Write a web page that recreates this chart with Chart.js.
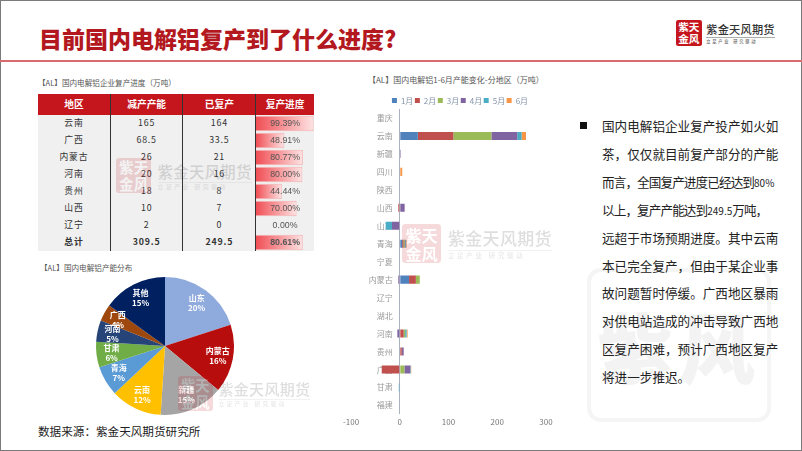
<!DOCTYPE html>
<html lang="zh">
<head>
    <meta charset="UTF-8">
    <title>目前国内电解铝复产到了什么进度?</title>
    <script src="https://cdn.jsdelivr.net/npm/chart.js"></script>
    <style>
        html, body { margin: 0; padding: 0; background: #fff; }
        body { width: 802px; height: 451px; position: relative; overflow: hidden; font-family: "Noto Sans CJK SC", "Noto Sans", sans-serif; }
        .abs { position: absolute; }
        canvas { display: block; }
        #frame { left: 0; top: 0; width: 800px; height: 449px; border: 1px solid #7a7a7a; }
        #rule { left: 0; top: 60px; width: 802px; height: 2px; background: #d96a6e; }
        #title { left: 39px; top: 21px; font-size: 23px; line-height: 34px; font-weight: 900; color: #b3181e; white-space: nowrap; }
        .sub { font-size: 7.6px; line-height: 10px; color: #555; white-space: nowrap; }
        #source { left: 38px; top: 422px; font-size: 11.6px; line-height: 18px; color: #222; white-space: nowrap; }
        #grid { left: 38px; top: 94px; width: 276px; border-collapse: collapse; table-layout: fixed; }
        #grid th, #grid td { padding: 0; text-align: center; border-left: 1px solid #333; border-right: 1px solid #333; }
        #grid th:first-child, #grid td:first-child { border-left: 0; }
        #grid th:last-child, #grid td:last-child { border-right: 0; }
        #grid th { height: 20.5px; background: #c5161d; color: #fff; font-size: 9.7px; font-weight: 700; }
        #grid td { height: 17.05px; background: #f0f0f0; color: #333; font-size: 8.8px; letter-spacing: .8px; line-height: 10px; }
        #grid tr.sum td { font-weight: 700; }
        #grid td:last-child { background: transparent; position: relative; z-index: 3; letter-spacing: 0; color: #555; font-family: "Liberation Sans", sans-serif; font-size: 8.8px; }
        #gridBack { left: 256px; top: 115px; width: 58px; height: 136px; background: #f0f0f0; }
        #bullet { left: 580px; top: 122px; width: 7px; height: 7px; background: #111; }
        .line { position: absolute; left: 602px; width: 169px; font-size: 12.6px; line-height: 18px; color: #222; text-align: justify; text-align-last: justify; white-space: nowrap; z-index: 2; }
        .line.last { text-align-last: left; }
        .line span { font-size: 10px; letter-spacing: 0; }
        #bigSeal { left: 587px; top: 268px; width: 176px; height: 146px; border: 4px solid #f5f5f5; border-radius: 14px; color: #f3f3f3; font-weight: 900; font-size: 76px; line-height: 146px; text-align: center; letter-spacing: 6px; white-space: nowrap; overflow: hidden; }
        .mark { position: absolute; white-space: nowrap; z-index: 4; pointer-events: none; }
        .seal { position: absolute; left: 0; top: 0; width: 2.3em; height: 2.3em; background: #c5161d; border-radius: .2em; color: #fff; font-weight: 700; font-size: 1em; line-height: 1.1em; text-align: center; overflow: hidden; }
        .seal span { display: block; font-size: .95em; padding-top: .1em; word-break: break-all; white-space: normal; }
        .brand { position: absolute; left: 2.7em; top: .2em; font-size: 1em; line-height: 1.3em; font-weight: 500; color: #333; letter-spacing: .02em; }
        .brand b { display: block; font-weight: 500; font-size: 1em; }
        .brand i { display: block; font-style: normal; font-size: .38em; line-height: 1.5em; border-top: 1px solid #aaa; margin-top: .1em; color: #666; letter-spacing: .42em; }
        .faint { opacity: .16; }
    </style>
</head>
<body>
    <div class="abs" id="frame"></div>
    <div class="abs" id="rule"></div>
    <div class="abs" id="title">目前国内电解铝复产到了什么进度?</div>

    <div class="abs sub" style="left:38px;top:78px">【AL】国内电解铝企业复产进度（万吨）</div>
    <div class="abs" id="gridBack"></div>
    <canvas class="abs" id="progressChart" width="58" height="136" style="left:256px;top:115px;z-index:2"></canvas>
    <table class="abs" id="grid"></table>

    <div class="abs sub" style="left:40px;top:263px">【AL】国内电解铝产能分布</div>
    <canvas class="abs" id="pieChart" width="140" height="140" style="left:95px;top:276px"></canvas>

    <div class="abs sub" style="left:368px;top:75px;font-size:8px">【AL】国内电解铝1-6月产能变化-分地区（万吨）</div>
    <canvas class="abs" id="barChart" width="240" height="345" style="left:340px;top:90px"></canvas>

    <div class="abs" id="source">数据来源：紫金天风期货研究所</div>

    <div class="abs" id="bigSeal">紫风</div>
    <div class="abs" id="bullet"></div>
    <div id="lines"></div>

    <script>
        // 复产进度表
        const tableHead = ['地区', '减产产能', '已复产', '复产进度'];
        const tableRegions = ['云南', '广西', '内蒙古', '河南', '贵州', '山西', '辽宁', '总计'];
        const cutCapacity = ['165', '68.5', '26', '20', '18', '10', '2', '309.5'];
        const restored = ['164', '33.5', '21', '16', '8', '7', '0', '249.5'];
        const progress = [99.39, 48.91, 80.77, 80.00, 44.44, 70.00, 0.00, 80.61];

        // 产能分布
        const pieLabels = ['山东', '内蒙古', '新疆', '云南', '青海', '甘肃', '河南', '广西', '其他'];
        const pieValues = [20, 16, 15, 12, 7, 6, 5, 4, 15];
        const pieColors = ['#8faadc', '#b70d0d', '#a5a5a5', '#ffc000', '#5b9bd5', '#70ad47', '#264478', '#9e480e', '#002060'];

        // 1-6月产能变化
        const barRegions = ['重庆', '云南', '新疆', '四川', '陕西', '山西', '山东', '青海', '宁夏', '内蒙古', '辽宁', '湖北', '河南', '贵州', '广西', '甘肃', '福建'];
        const jan = [0, 37, 0, 0, 0, 0, 0, 5, 0, 19, 0, 0, 0, 0, 0, 0, 0];
        const feb = [0, 73, 0, 0, 0, -3, 0, 2, 0, 14, 0, 0, 8, 4, -37, 0, 0];
        const mar = [0, 78, 1, 0, 0, 0, 0, 3, 0, 8, 0, 0, 3, 0, 9.5, 0, 0];
        const apr = [0, 53, 1, 0, 0, 10, -16, 1, 0, -3, 0, 0, -5, 4, 12, 0, 0];
        const may = [0, 9, 0, 0, 0, 0, -13, 2, 0, 0, 0, 0, 3, 0, 1, -2, 0];
        const jun = [0, 9, 0, 5, 0, 0, 0, 1, 0, 0, 0, 0, 2, 0, 1, 1, 0];
        const xTicks = [-100, 0, 100, 200, 300];

        const bodyLines = [
            '国内电解铝企业复产投产如火如',
            '茶，仅仅就目前复产部分的产能',
            '而言，全国复产进度已经达到80%',
            '以上，复产产能达到249.5万吨，',
            '远超于市场预期进度。其中云南',
            '本已完全复产，但由于某企业事',
            '故问题暂时停缓。广西地区暴雨',
            '对供电站造成的冲击导致广西地',
            '区复产困难，预计广西地区复产',
            '将进一步推迟。'
        ];

        const font = '"Noto Sans CJK SC", "Noto Sans", sans-serif';

        // 表格
        let html = '<colgroup><col style="width:72.3px"><col style="width:72.7px"><col style="width:72.7px"><col style="width:58.3px"></colgroup>';
        html += '<tr>' + tableHead.map(h => '<th>' + h + '</th>').join('') + '</tr>';
        tableRegions.forEach((r, i) => {
            html += '<tr' + (i === 7 ? ' class="sum"' : '') + '><td>' + r + '</td><td>' + cutCapacity[i] + '</td><td>' + restored[i] +
                '</td><td>' + progress[i].toFixed(2) + '%</td></tr>';
        });
        document.getElementById('grid').innerHTML = html;

        // 右侧文字，带数字的两行要挤一点
        document.getElementById('lines').innerHTML = bodyLines.map((t, i) => {
            const tight = /\d/.test(t) ? ';letter-spacing:-.9px' : '';
            const width = i === 3 ? ';width:162px' : '';
            const text = t.replace(/[\d.%]+/g, '<span>$&</span>');
            return '<div class="line' + (i === bodyLines.length - 1 ? ' last' : '') + '" style="top:' + (117 + i * 27.9) + 'px' + tight + width + '">' + text + '</div>';
        }).join('');

        // 标志和水印
        function addMark(x, y, size, faint) {
            const m = document.createElement('div');
            m.className = 'mark' + (faint ? ' faint' : '');
            m.style.cssText = 'left:' + x + 'px;top:' + y + 'px;font-size:' + size + 'px';
            m.innerHTML = '<div class="seal"><span>紫天金风</span></div><div class="brand"><b>紫金天风期货</b><i>立足产业 研究驱动</i></div>';
            document.body.appendChild(m);
        }
        addMark(676, 20, 11.2, false);
        addMark(116, 158, 15.4, true);
        addMark(402, 224, 17, true);
        addMark(178, 376, 15, true);

        // 进度条
        new Chart(document.getElementById('progressChart'), {
            type: 'bar',
            data: {
                labels: tableRegions,
                datasets: [{
                    data: progress,
                    borderColor: '#f5aeb0',
                    borderWidth: 1,
                    barPercentage: 0.92,
                    categoryPercentage: 1,
                    backgroundColor: (c) => {
                        if (!c.raw) return '#f04f55';
                        const g = c.chart.ctx.createLinearGradient(0, 0, c.raw / 100 * c.chart.width, 0);
                        g.addColorStop(0, '#f04f55');
                        g.addColorStop(1, '#fde3e3');
                        return g;
                    }
                }]
            },
            options: {
                indexAxis: 'y',
                responsive: false,
                animation: false,
                layout: { padding: 0 },
                plugins: { legend: { display: false }, tooltip: { enabled: false } },
                scales: {
                    x: { display: false, min: 0, max: 100 },
                    y: { display: false }
                }
            }
        });

        // 饼图文字
        const pieText = {
            id: 'pieText',
            afterDatasetsDraw(chart) {
                const { ctx } = chart;
                ctx.save();
                ctx.fillStyle = '#fff';
                ctx.font = '700 8px ' + font;
                ctx.textAlign = 'center';
                ctx.textBaseline = 'middle';
                chart.getDatasetMeta(0).data.forEach((arc, i) => {
                    const mid = (arc.startAngle + arc.endAngle) / 2;
                    const r = arc.outerRadius * 0.78;
                    const x = arc.x + Math.cos(mid) * r;
                    const y = arc.y + Math.sin(mid) * r;
                    ctx.fillText(pieLabels[i], x, y - 5);
                    ctx.fillText(pieValues[i] + '%', x, y + 5);
                });
                ctx.restore();
            }
        };

        new Chart(document.getElementById('pieChart'), {
            type: 'pie',
            data: {
                labels: pieLabels,
                datasets: [{ data: pieValues, backgroundColor: pieColors, borderWidth: 0 }]
            },
            options: {
                responsive: false,
                animation: false,
                radius: 69,
                plugins: { legend: { display: false }, tooltip: { enabled: false } }
            },
            plugins: [pieText]
        });

        // 分地区堆积条形图
        const months = ['1月', '2月', '3月', '4月', '5月', '6月'];
        const monthValues = [jan, feb, mar, apr, may, jun];
        const monthColors = ['#4f81bd', '#c0504d', '#9bbb59', '#8064a2', '#4bacc6', '#f79646'];

        // 图例相对绘图区右移
        const shiftLegend = {
            id: 'shiftLegend',
            afterLayout(chart) {
                chart.legend.left += 12.5;
                chart.legend.right += 12.5;
            }
        };

        new Chart(document.getElementById('barChart'), {
            type: 'bar',
            data: {
                labels: barRegions,
                datasets: months.map((m, i) => ({
                    label: m,
                    data: monthValues[i],
                    backgroundColor: monthColors[i],
                    barPercentage: 0.45,
                    categoryPercentage: 1
                }))
            },
            options: {
                indexAxis: 'y',
                responsive: false,
                animation: false,
                layout: { padding: { left: 9, right: 34, top: 5, bottom: 5 } },
                plugins: {
                    tooltip: { enabled: false },
                    legend: {
                        position: 'top',
                        maxHeight: 14,
                        labels: {
                            boxWidth: 5,
                            boxHeight: 5,
                            padding: 1.5,
                            color: '#8393a8',
                            font: { size: 8, family: font }
                        }
                    }
                },
                scales: {
                    x: {
                        stacked: true,
                        min: -100,
                        max: 300,
                        afterBuildTicks: (axis) => { axis.ticks = xTicks.map(v => ({ value: v })); },
                        // 只留0处的竖线
                        grid: { drawTicks: false, color: (c) => (c.tick && c.tick.value === 0 ? '#aab2c0' : 'transparent') },
                        border: { display: false },
                        ticks: { color: '#777', font: { size: 8, family: font }, padding: 3, maxRotation: 0 }
                    },
                    y: {
                        stacked: true,
                        // 标签离0轴留点距离
                        position: { x: -14.3 },
                        grid: { display: false, drawTicks: false },
                        border: { display: false },
                        ticks: { color: '#9a9a9a', autoSkip: false, font: { size: 8, family: font } }
                    }
                }
            },
            plugins: [shiftLegend]
        });
    </script>
</body>
</html>
